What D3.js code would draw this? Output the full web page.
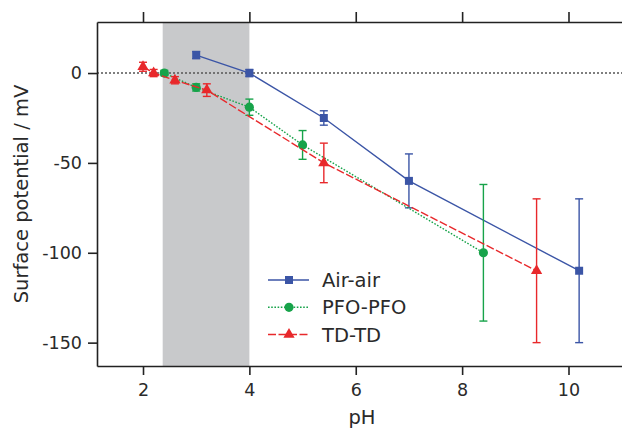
<!DOCTYPE html>
<html>
<head>
<meta charset="utf-8">
<script src="https://cdn.jsdelivr.net/npm/d3@7"></script>
<style>
html,body{margin:0;padding:0;background:#fff;}
svg{display:block;font-family:"DejaVu Sans",sans-serif;}
</style>
</head>
<body>
<svg id="chart" width="622" height="429"></svg>
<script>
// ---- data ----
const airPH   = [3.0, 4.0, 5.4, 7.0, 10.2];
const airV    = [10, 0, -25, -60, -110];
const airErr  = [2, 2, 4, 15, 40];

const pfoPH   = [2.4, 3.0, 4.0, 5.0, 8.4];
const pfoV    = [0, -8, -19, -40, -100];
const pfoErr  = [1.5, 2, 4.5, 8, 38];

const tdPH    = [2.0, 2.2, 2.6, 3.2, 5.4, 9.4];
const tdV     = [3.5, 0, -4, -9.5, -50, -110];
const tdErr   = [2.5, 2, 2, 3.5, 11, 40];

const xTicks = [2, 4, 6, 8, 10];
const yTicks = [0, -50, -100, -150];
const bandRange = [2.37, 4.0];
const seriesNames = ["Air-air", "PFO-PFO", "TD-TD"];
const xLabel = "pH";
const yLabel = "Surface potential / mV";

// ---- layout ----
const svg = d3.select("#chart");
const L = 97, T = 22, B = 366, R = 627;
const x = d3.scaleLinear().domain([1.135, 11.1]).range([L, R]);
const y = d3.scaleLinear().domain([-163, 28.4]).range([B, T]);

const series = [
  {name: seriesNames[0], ph: airPH, v: airV, err: airErr, color: "#3b55a6", dash: null, sym: d3.symbolSquare, size: 64},
  {name: seriesNames[1], ph: pfoPH, v: pfoV, err: pfoErr, color: "#17a34a", dash: "1.6,1.6", sym: d3.symbolCircle, size: 66},
  {name: seriesNames[2], ph: tdPH, v: tdV, err: tdErr, color: "#e8282b", dash: "8,2.5", sym: d3.symbolTriangle, size: 55}
];

// grey band
svg.append("rect")
  .attr("x", x(bandRange[0])).attr("y", T)
  .attr("width", x(bandRange[1]) - x(bandRange[0]))
  .attr("height", B - T)
  .attr("fill", "#c8c9cb");

// zero line
svg.append("line")
  .attr("x1", L).attr("x2", 622).attr("y1", y(0)).attr("y2", y(0))
  .attr("stroke", "#555").attr("stroke-width", 1.4).attr("stroke-dasharray", "2,2");

const line = d3.line().x(d => x(d[0])).y(d => y(d[1]));

series.forEach(s => {
  const pts = s.ph.map((p, i) => [p, s.v[i], s.err[i]]);
  const g = svg.append("g");
  g.append("path").datum(pts).attr("d", line)
    .attr("fill", "none").attr("stroke", s.color).attr("stroke-width", 1.4)
    .attr("stroke-dasharray", s.dash);
  // error bars
  pts.forEach(d => {
    const cx = x(d[0]), y1 = y(d[1] + d[2]), y2 = y(d[1] - d[2]);
    g.append("line").attr("x1", cx).attr("x2", cx).attr("y1", y1).attr("y2", y2)
      .attr("stroke", s.color).attr("stroke-width", 1.4);
    [y1, y2].forEach(yy => g.append("line").attr("x1", cx - 4).attr("x2", cx + 4)
      .attr("y1", yy).attr("y2", yy).attr("stroke", s.color).attr("stroke-width", 1.4));
  });
  g.selectAll("path.m").data(pts).enter().append("path").attr("class", "m")
    .attr("d", d3.symbol().type(s.sym).size(s.size))
    .attr("transform", d => `translate(${x(d[0])},${y(d[1])})`)
    .attr("fill", s.color);
});

// axes
const axisColor = "#222";
const fmt = d => String(d);
const gx = svg.append("g").attr("transform", `translate(0,${B})`)
  .call(d3.axisBottom(x).tickValues(xTicks).tickFormat(fmt).tickSize(9).tickPadding(6).tickSizeOuter(0));
const gxt = svg.append("g").attr("transform", `translate(0,${T})`)
  .call(d3.axisTop(x).tickValues(xTicks).tickSize(10).tickFormat("").tickSizeOuter(0));
const gy = svg.append("g").attr("transform", `translate(${L},0)`)
  .call(d3.axisLeft(y).tickValues(yTicks).tickFormat(fmt).tickSize(9).tickPadding(6).tickSizeOuter(0));
[gx, gxt, gy].forEach(g => {
  g.select(".domain").attr("stroke", axisColor).attr("stroke-width", 1.6);
  g.selectAll(".tick line").attr("stroke", axisColor).attr("stroke-width", 1.6);
  g.selectAll(".tick text").attr("fill", "#2a2a2a").style("font-size", "17.5px")
    .style("font-family", "DejaVu Sans, sans-serif");
});
gx.selectAll(".tick text").attr("dy", "0.85em");

// axis titles
svg.append("text").attr("x", 362).attr("y", 424).attr("text-anchor", "middle")
  .style("font-size", "19.5px").attr("fill", "#2a2a2a").text(xLabel);
svg.append("text").attr("transform", "translate(28,194) rotate(-90)").attr("text-anchor", "middle")
  .style("font-size", "19.5px").attr("fill", "#2a2a2a").text(yLabel);

// legend
const legY = [280, 307.3, 334.5];
series.forEach((s, i) => {
  const g = svg.append("g");
  g.append("line").attr("x1", 268).attr("x2", 309).attr("y1", legY[i]).attr("y2", legY[i])
    .attr("stroke", s.color).attr("stroke-width", 1.4).attr("stroke-dasharray", s.dash);
  g.append("path").attr("d", d3.symbol().type(s.sym).size(s.size))
    .attr("transform", `translate(289,${legY[i]})`).attr("fill", s.color);
  g.append("text").attr("x", 322).attr("y", legY[i] + 7).style("font-size", "19.5px")
    .attr("fill", "#2a2a2a").text(s.name);
});
</script>
</body>
</html>
